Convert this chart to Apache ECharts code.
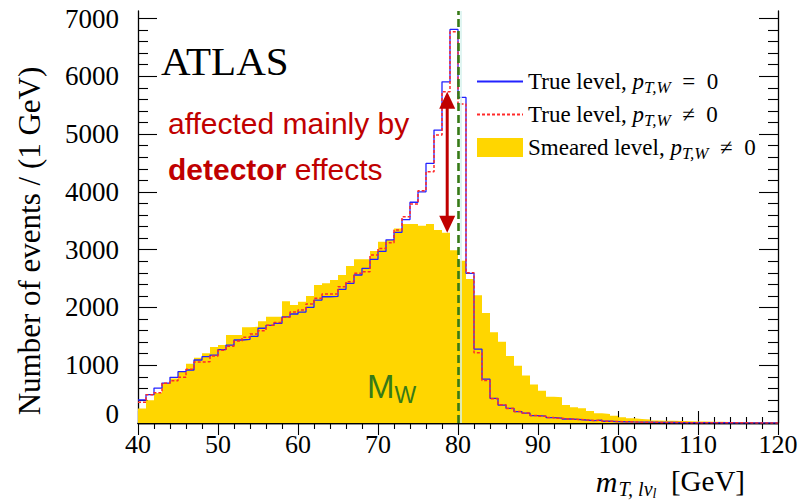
<!DOCTYPE html>
<html>
<head>
<meta charset="utf-8">
<title>Transverse mass distribution</title>
<script src="https://cdn.jsdelivr.net/npm/echarts@6/dist/echarts.min.js"></script>
<style>
  html, body { margin: 0; padding: 0; background: #ffffff; }
  #chart { width: 805px; height: 502px; }
</style>
</head>
<body>
<div id="chart"></div>
<script>
// Histogram binning: 1 GeV bins from 40 to 120 GeV
const binStart = 40;
const binWidth = 1;

// True level, pT,W = 0 (events per bin, bins 40..119)
const trueNoPt = [
  398, 490, 605, 690, 790, 888, 917, 1090, 1147, 1176,
  1270, 1349, 1436, 1448, 1500, 1640, 1690, 1725, 1835, 1886,
  1920, 2001, 2128, 2185, 2190, 2313, 2417, 2561, 2676, 2832,
  2970, 3170, 3300, 3520, 3820, 4000, 4493, 5069, 5905, 6811,
  5635, 2590, 1278, 758, 427, 311, 254, 196, 170, 127,
  118, 94, 84, 69, 64, 52, 42, 50, 30, 25,
  22, 18, 16, 14, 12, 10, 9, 8, 7, 6,
  5, 5, 4, 4, 3, 3, 2, 2, 2, 1
];

// True level, pT,W != 0
const trueWithPt = [
  358, 490, 524, 686, 732, 790, 930, 1055, 1060, 1159,
  1260, 1330, 1420, 1483, 1540, 1597, 1690, 1740, 1829, 1920,
  1955, 2059, 2157, 2232, 2232, 2358, 2445, 2590, 2618, 2907,
  3022, 3120, 3339, 3570, 3790, 4020, 4349, 4984, 5732, 6770,
  5520, 2600, 1216, 737, 420, 315, 250, 200, 172, 130,
  115, 96, 82, 70, 62, 54, 44, 48, 32, 26,
  21, 19, 15, 14, 11, 10, 9, 8, 6, 6,
  5, 4, 4, 3, 3, 3, 2, 2, 1, 1
];

// Smeared (reconstructed) level, pT,W != 0
const smeared = [
  250, 395, 520, 690, 770, 900, 1025, 1130, 1206, 1315,
  1349, 1522, 1522, 1655, 1666, 1760, 1839, 1839, 2105, 2042,
  2099, 2197, 2388, 2417, 2474, 2561, 2716, 2832, 2832, 2976,
  3137, 3166, 3368, 3445, 3443, 3414, 3443, 3339, 3293, 2990,
  2808, 2490, 2212, 1905, 1570, 1407, 1159, 990, 820, 665,
  560, 455, 444, 311, 271, 254, 208, 167, 156, 127,
  98, 81, 70, 62, 45, 40, 38, 35, 30, 28,
  25, 22, 20, 18, 16, 15, 13, 12, 11, 10
];

// Axis ticks
const yMajorTicks = [0, 1000, 2000, 3000, 4000, 5000, 6000, 7000];
const yMinorStep = 200;
const mW = 80;          // W mass marker position [GeV]
const arrowBin = 78;    // bin where the detector-effect arrow is drawn
const arrowX = 78.65;

const yMinorTicks = [];
for (let v = yMinorStep; v < 7000; v += yMinorStep) {
  if (v % 1000 !== 0) yMinorTicks.push(v);
}

// Convert bin contents to step-line points (left edge of each bin, plus closing edge)
function toSteps(vals) {
  const pts = vals.map((v, i) => [binStart + i * binWidth, v]);
  pts.push([binStart + vals.length * binWidth, vals[vals.length - 1]]);
  return pts;
}

const SERIF = '"Liberation Serif", "DejaVu Serif", serif';
const SANS = '"Liberation Sans", Arial, sans-serif';
const DARK_RED = '#c00000';
const GREEN = '#377a17';

const NAME_BLUE = 'True level, pT,W = 0';
const NAME_RED = 'True level, pT,W ≠ 0';
const NAME_YEL = 'Smeared level, pT,W ≠ 0';

const legendText = {};
legendText[NAME_BLUE] = '{t|True level, }{m|p}{s|T,W}{t|  =  0}';
legendText[NAME_RED] = '{t|True level, }{m|p}{s|T,W}{t|  ≠  0}';
legendText[NAME_YEL] = '{t|Smeared level, }{m|p}{s|T,W}{t|  ≠  0}';

const axisLineStyle = { color: '#000', width: 1.3 };
const tickLineStyle = { color: '#000', width: 1.1 };

const yBase = {
  type: 'value', min: 0, max: 7130,
  splitLine: { show: false },
  axisLine: { show: true, lineStyle: axisLineStyle }
};
const xBase = {
  type: 'value', min: 40, max: 120, interval: 10,
  splitLine: { show: false },
  axisLine: { show: true, lineStyle: axisLineStyle },
  axisTick: { show: true, inside: true, length: 12, lineStyle: tickLineStyle },
  minorTick: { show: true, splitNumber: 5, length: 6, lineStyle: tickLineStyle }
};

const chart = echarts.init(document.getElementById('chart'), null, { renderer: 'svg' });

chart.setOption({
  animation: false,
  backgroundColor: '#ffffff',
  grid: { left: 138, right: 27, top: 11, bottom: 79, containLabel: false },
  xAxis: [
    Object.assign({}, xBase, {
      position: 'bottom',
      axisLabel: { fontFamily: SERIF, fontSize: 26, color: '#000', margin: 8 },
      name: '{i|m}{s|T, lν}{ss|l}{r|  [GeV]}',
      nameLocation: 'end',
      nameGap: -33,
      nameTextStyle: {
        align: 'right', verticalAlign: 'top', padding: [43, 0, 0, 0],
        rich: {
          i: { fontFamily: SERIF, fontStyle: 'italic', fontSize: 30, lineHeight: 30, color: '#000' },
          s: { fontFamily: SERIF, fontStyle: 'italic', fontSize: 20, lineHeight: 18, padding: [15, 0, 0, 1], color: '#000' },
          ss: { fontFamily: SERIF, fontStyle: 'italic', fontSize: 14, lineHeight: 13, padding: [24, 0, 0, 0], color: '#000' },
          r: { fontFamily: SERIF, fontSize: 29, lineHeight: 30, color: '#000' }
        }
      }
    }),
    Object.assign({}, xBase, {
      position: 'top',
      axisLabel: { show: false }
    })
  ],
  yAxis: [
    Object.assign({}, yBase, {
      position: 'left',
      axisTick: { show: true, inside: true, length: 19, customValues: yMajorTicks, lineStyle: tickLineStyle },
      axisLabel: {
        customValues: yMajorTicks,
        fontFamily: SERIF, fontSize: 27, color: '#000', margin: 19,
        formatter: v => (v === 0 ? '{z|0}' : String(v)),
        rich: { z: { fontFamily: SERIF, fontSize: 27, color: '#000', padding: [0, 0, 18, 0] } }
      }
    }),
    Object.assign({}, yBase, {
      position: 'left',
      axisLine: { show: false },
      axisTick: { show: true, inside: true, length: 10, customValues: yMinorTicks, lineStyle: tickLineStyle },
      axisLabel: { show: false }
    }),
    Object.assign({}, yBase, {
      position: 'right',
      axisTick: { show: true, inside: true, length: 19, customValues: yMajorTicks, lineStyle: tickLineStyle },
      axisLabel: { show: false }
    }),
    Object.assign({}, yBase, {
      position: 'right',
      axisLine: { show: false },
      axisTick: { show: true, inside: true, length: 10, customValues: yMinorTicks, lineStyle: tickLineStyle },
      axisLabel: { show: false }
    })
  ],
  legend: {
    orient: 'vertical',
    left: 471, top: 62,
    itemWidth: 46, itemHeight: 19, itemGap: 4,
    selectedMode: false,
    data: [
      { name: NAME_BLUE, itemStyle: { opacity: 0 } },
      { name: NAME_RED, itemStyle: { opacity: 0 } },
      { name: NAME_YEL, icon: 'rect' }
    ],
    formatter: name => legendText[name],
    textStyle: {
      fontFamily: SERIF, fontSize: 23, color: '#000',
      rich: {
        t: { fontFamily: SERIF, fontSize: 23, lineHeight: 25, color: '#000' },
        m: { fontFamily: SERIF, fontStyle: 'italic', fontSize: 23, lineHeight: 25, color: '#000' },
        s: { fontFamily: SERIF, fontStyle: 'italic', fontSize: 17, lineHeight: 16, padding: [12, 0, 0, 0], color: '#000' }
      }
    }
  },
  series: [
    {
      name: NAME_YEL,
      type: 'line',
      step: 'end',
      symbol: 'none',
      data: toSteps(smeared),
      itemStyle: { color: '#ffd600' },
      lineStyle: { width: 0, color: '#ffd600' },
      areaStyle: { color: '#ffd600', opacity: 1 },
      z: 1
    },
    {
      name: NAME_BLUE,
      type: 'line',
      step: 'end',
      symbol: 'none',
      data: toSteps(trueNoPt),
      itemStyle: { color: '#2222ff' },
      lineStyle: { color: '#2222ff', width: 1.3 },
      z: 3
    },
    {
      name: NAME_RED,
      type: 'line',
      step: 'end',
      symbol: 'none',
      data: toSteps(trueWithPt),
      itemStyle: { color: '#ff2a2a' },
      lineStyle: { color: '#ff2a2a', width: 1.5, type: [3, 2] },
      z: 4,
      markLine: {
        silent: true,
        symbol: 'none',
        label: { show: false },
        data: [
          { xAxis: mW + 0.3, lineStyle: { color: '#d6f2ee', width: 1.5, type: 'solid' } },
          { xAxis: mW, lineStyle: { color: GREEN, width: 2.6, type: [8, 4] } }
        ]
      }
    },
    {
      name: 'detector effect',
      type: 'custom',
      silent: true,
      z: 6,
      encode: { x: 0, y: [1, 2] },
      data: [[arrowX, smeared[arrowBin - binStart], trueWithPt[arrowBin - binStart]]],
      renderItem: function (params, api) {
        const lo = api.coord([api.value(0), api.value(1)]);
        const hi = api.coord([api.value(0), api.value(2)]);
        const hw = 8, hl = 17;
        return {
          type: 'group',
          children: [
            { type: 'line', shape: { x1: hi[0], y1: hi[1] + hl - 2, x2: lo[0], y2: lo[1] - hl + 2 },
              style: { stroke: DARK_RED, lineWidth: 3 } },
            { type: 'polygon', shape: { points: [[hi[0], hi[1]], [hi[0] - hw, hi[1] + hl], [hi[0] + hw, hi[1] + hl]] },
              style: { fill: DARK_RED } },
            { type: 'polygon', shape: { points: [[lo[0], lo[1]], [lo[0] - hw, lo[1] - hl], [lo[0] + hw, lo[1] - hl]] },
              style: { fill: DARK_RED } }
          ]
        };
      }
    }
  ],
  graphic: [
    // y-axis title, rotated to read bottom to top
    { type: 'text', x: 29, y: 241, rotation: Math.PI / 2, z: 10,
      style: { text: 'Number of events / (1 GeV)', fontFamily: SERIF, fontSize: 31, fill: '#000',
               align: 'center', verticalAlign: 'middle' } },
    { type: 'text', left: 161, top: 40, z: 10,
      style: { text: 'ATLAS', fontFamily: SERIF, fontSize: 41, fill: '#000' } },
    { type: 'text', left: 168, top: 108, z: 10,
      style: { text: 'affected mainly by', fontFamily: SANS, fontSize: 30, fill: DARK_RED } },
    { type: 'text', left: 168, top: 154, z: 10,
      style: {
        text: '{b|detector}{n| effects}',
        rich: {
          b: { fontFamily: SANS, fontSize: 30, fontWeight: 'bold', fill: DARK_RED, lineHeight: 34 },
          n: { fontFamily: SANS, fontSize: 30, fill: DARK_RED, lineHeight: 34 }
        }
      } },
    { type: 'text', left: 367, top: 366, z: 10,
      style: {
        text: '{M|M}{W|W}',
        rich: {
          M: { fontFamily: SANS, fontSize: 33, fill: GREEN, lineHeight: 34 },
          W: { fontFamily: SANS, fontSize: 23, fill: GREEN, lineHeight: 21, padding: [17, 0, 0, 0] }
        }
      } }
  ]
});
</script>
</body>
</html>
